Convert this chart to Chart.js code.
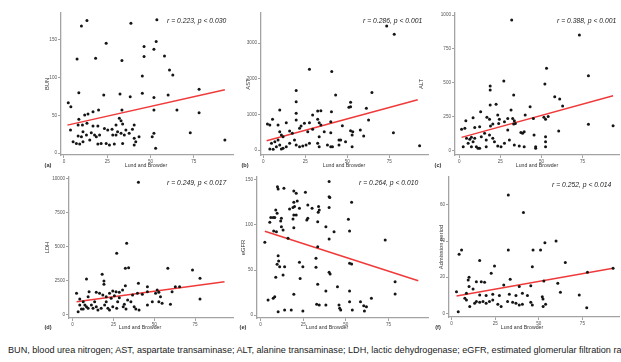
<!DOCTYPE html>
<html>
<head>
<meta charset="utf-8">
<script src="https://cdn.jsdelivr.net/npm/chart.js@4.4.0/dist/chart.umd.min.js"></script>
<style>
  body { margin: 0; background: #fff; width: 621px; height: 362px; overflow: hidden; position: relative;
         font-family: "Liberation Sans", Arial, sans-serif; }
  canvas { position: absolute; }
  .lbl { position: absolute; white-space: nowrap; color: #333; transform: translate(-50%, -50%); }
  .xt { font-size: 5.2px; }
  .tag { font-size: 5.6px; font-weight: bold; }
  .stat { position: absolute; white-space: nowrap; color: #222; font-size: 6.8px; font-style: italic; transform: translateY(-50%); }
  #caption { position: absolute; left: 8px; top: 350px; transform: translateY(-50%); font-size: 9.1px; color: #1a1a1a; white-space: nowrap; }
</style>
</head>
<body>
<div id="caption">BUN, blood urea nitrogen; AST, aspartate transaminase; ALT, alanine transaminase; LDH, lactic dehydrogenase; eGFR, estimated glomerular filtration rate.</div>
<script>
// tick labels
const lundTicks = [0, 25, 50, 75];
const bunTicks = [0, 50, 100, 150];
const astTicks = [0, 1000, 2000, 3000];
const altTicks = [0, 250, 500, 750, 1000];
const ldhTicks = [0, 2500, 5000, 7500, 10000];
const egfrTicks = [0, 50, 100, 150];
const admTicks = [0, 20, 40, 60];

// [Lund and Browder, value]
const bunPoints = [
  [13.3,175.7],[10.1,168.6],[38.7,172.1],[53.7,176.6],[24.4,145.6],[46.3,141.2],[53.3,147.8],[52.0,137.6],
  [7.6,124.8],[18.3,125.7],[33.5,122.6],[46.3,127.9],[58.1,128.8],[61.0,110.2],[62.9,103.5],[45.3,102.2],
  [78.1,84.5],[8.6,80.1],[23.0,77.0],[32.4,78.3],[38.3,74.8],[45.3,79.2],[52.0,73.5],[60.2,77.0],
  [2.5,66.8],[4.0,61.5],[65.3,57.1],[52.0,57.1],[33.5,57.1],[12.0,50.4],[13.9,51.8],[16.8,54.9],
  [20.0,57.1],[8.6,44.7],[32.0,46.0],[33.0,42.9],[78.1,53.5],[73.0,27.0],[93.0,17.3],[3.8,30.5],
  [8.2,37.2],[10.7,37.2],[13.3,39.4],[16.8,35.8],[19.6,35.8],[23.4,32.7],[25.3,30.5],[27.8,31.4],
  [30.1,37.2],[31.0,28.3],[33.9,38.5],[35.8,30.5],[40.6,37.2],[39.6,31.4],[5.3,15.0],[7.2,12.8],
  [9.1,11.9],[11.0,15.0],[8.2,22.6],[10.1,21.7],[13.0,23.9],[14.9,17.3],[17.7,23.9],[18.7,21.7],
  [20.6,23.9],[19.6,11.9],[21.5,12.8],[24.4,12.8],[26.3,10.6],[28.2,23.9],[30.1,23.9],[33.0,26.1],
  [33.9,12.8],[34.9,23.9],[37.7,26.1],[40.6,19.5],[40.6,10.6],[41.5,15.0],[43.4,21.7],[51.0,21.7],
  [52.0,26.1],[53.0,6.2],[29.1,11.9],[11.0,28.3],[15.8,27.0]
];
const astPoints = [
  [73.5,3486],[78.0,3251],[27.5,2268],[40.8,2202],[19.6,1668],[43.1,1546],[64.7,1612],[19.6,1359],
  [52.0,1340],[51.0,1200],[52.0,1218],[61.4,1171],[9.8,1124],[32.4,1096],[34.3,1106],[29.4,984],
  [40.6,1078],[19.6,1031],[5.5,862],[2.5,731],[3.9,703],[8.8,703],[13.7,768],[19.6,843],
  [24.5,750],[27.5,768],[32.4,862],[33.3,768],[34.3,703],[40.2,796],[47.1,684],[52.0,543],
  [53.3,515],[57.8,562],[62.7,843],[77.5,487],[93.1,122],[9.8,515],[10.8,422],[11.8,375],
  [15.7,534],[17.3,468],[21.6,609],[22.5,675],[26.5,515],[29.4,581],[33.3,375],[36.3,515],
  [40.2,487],[45.1,281],[46.1,281],[49.0,234],[52.9,422],[59.8,394],[4.9,187],[6.9,234],
  [7.8,94],[9.8,141],[11.8,47],[13.7,94],[8.8,281],[15.7,187],[18.6,281],[19.6,141],
  [21.6,94],[23.5,112],[25.5,141],[27.5,187],[32.4,187],[33.3,94],[38.2,141],[40.2,94],
  [41.2,94],[45.1,141],[52.9,94],[3.9,28],[5.9,19],[10.8,28]
];
const altPoints = [
  [31.9,963],[73.1,853],[53.1,607],[78.6,553],[27.1,514],[52.1,491],[18.8,477],[18.8,447],
  [33.1,410],[58.1,398],[61.1,381],[18.8,337],[22.4,342],[43.1,324],[62.9,329],[13.0,287],
  [31.5,300],[40.1,263],[8.4,243],[16.8,246],[18.4,231],[23.4,263],[24.4,231],[29.5,238],
  [32.5,238],[33.5,221],[34.1,201],[51.5,246],[52.5,231],[54.1,251],[45.1,238],[4.0,221],
  [1.4,157],[3.4,165],[9.4,170],[12.4,177],[19.0,182],[20.4,197],[24.0,201],[27.5,214],
  [33.1,197],[29.5,152],[37.5,133],[38.5,128],[39.5,140],[45.5,115],[52.5,103],[60.5,145],
  [78.6,194],[93.6,184],[2.4,29],[5.4,54],[7.4,29],[8.4,66],[6.4,84],[7.4,98],
  [9.4,91],[10.4,29],[11.4,17],[12.4,17],[13.4,103],[15.4,128],[16.4,79],[18.4,115],
  [20.4,91],[21.4,66],[23.4,34],[25.4,29],[27.5,54],[30.5,79],[33.5,42],[36.5,34],
  [39.5,29],[46.5,17],[46.5,29],[52.5,29],[52.5,66],[16.4,29],[4.4,91]
];
const ldhPoints = [
  [40.3,9702],[33.1,5219],[27.0,4484],[32.3,3381],[34.3,3430],[58.3,3381],[73.4,3259],[8.5,2597],
  [18.1,2940],[19.2,2450],[19.2,2205],[78.0,2646],[40.3,2279],[32.3,2107],[30.6,1789],[45.8,2034],
  [62.9,2034],[65.5,2034],[51.8,1789],[60.9,1666],[2.4,1544],[4.4,1127],[10.1,1666],[9.5,1299],
  [14.5,1617],[16.5,1544],[18.5,1421],[22.6,1544],[24.6,1715],[26.6,1666],[28.6,1617],[20.6,1299],
  [23.6,1176],[25.6,1372],[28.6,1225],[36.7,1421],[39.7,1544],[42.7,1470],[45.8,1666],[50.8,1544],
  [52.8,1617],[53.8,1299],[78.0,1127],[6.5,931],[7.5,686],[8.5,564],[9.5,441],[6.5,392],
  [11.5,686],[12.5,441],[14.5,564],[15.5,319],[13.5,931],[17.5,441],[19.6,686],[21.6,441],
  [22.6,319],[24.6,564],[27.0,441],[27.6,931],[31.0,564],[31.7,735],[32.7,392],[33.7,1054],
  [35.7,931],[37.7,564],[38.7,392],[40.7,319],[45.8,686],[48.8,931],[52.8,931],[54.8,809],
  [59.9,735],[3.4,196],[5.4,392],[4.4,686],[20.6,931]
];
const egfrPoints = [
  [9.9,142.6],[10.3,140],[13.7,140.7],[19.5,137.8],[20.9,135.2],[26.3,136.3],[40.2,148.2],[40.2,131.5],
  [40.6,130.4],[53.4,125.2],[19.5,125.2],[21.5,126.7],[19.9,120.4],[17.0,117.8],[19.0,119.3],[22.8,118.5],
  [27.7,122.2],[30.2,118.5],[34.0,120.4],[34.4,116.7],[33.8,114.1],[40.2,119.3],[8.9,116.7],[9.7,113],
  [8.3,108.2],[6.0,108.2],[7.4,108.2],[5.4,103],[12.2,107.4],[11.8,104.5],[19.5,111.1],[20.9,111.1],
  [19.0,106.7],[27.7,107.4],[27.1,105.6],[33.5,103.7],[12.2,98.1],[13.2,94.4],[7.7,93.3],[9.3,92.6],
  [19.5,97],[16.1,85.2],[38.3,98.1],[43.1,92.6],[51.5,106.3],[52.2,93.3],[40.2,84.5],[73.1,83.3],
  [2.5,80.7],[33.5,75.9],[10.3,65.9],[10.6,60],[9.7,56.3],[14.1,53.7],[11.2,53.7],[22.8,58.5],
  [24.8,53.7],[23.2,40.7],[32.5,63],[32.5,53],[52.2,57.4],[53.4,56.7],[8.9,41.9],[13.2,44.4],
  [40.2,47.4],[40.8,45.6],[33.5,34.1],[45.1,31.5],[38.3,26.7],[19.5,23],[52.2,26.7],[78.9,37],
  [78.9,23.3],[4.4,16.7],[7.4,18.5],[8.3,20.4],[32.9,11.9],[34.4,11.1],[38.3,11.1],[46.0,11.1],
  [46.4,7.4],[47.0,5.6],[52.2,14.8],[53.8,5.6],[58.6,14.8],[60.5,10.4],[60.9,4.4],[62.1,9.3],
  [65.0,18.5],[10.3,3.7],[14.1,5.6],[18.0,5.6],[24.8,4.4]
];
const admPoints = [
  [32.5,65.5],[41.2,55.9],[53.5,39.1],[59.9,40.1],[32.5,35.1],[46.7,35.1],[51.0,35.1],[5.7,35.1],
  [4.3,32.7],[16.1,29.2],[24.6,26.2],[46.3,25.8],[65.2,28.1],[22.7,22.2],[10.0,19.9],[9.5,18.5],
  [14.2,17.5],[17.0,17.5],[18.9,17.2],[33.6,18.8],[29.9,15.7],[52.9,17.9],[60.9,16.6],[92.6,24.9],
  [77.9,22.7],[10.0,14.8],[12.3,13.5],[2.8,12.0],[8.5,11.1],[62.4,11.6],[73.2,10.2],[16.1,10.2],
  [19.8,9.8],[23.6,10.5],[27.4,9.8],[33.1,10.5],[36.9,9.8],[40.6,11.1],[43.5,9.8],[45.4,15.3],
  [38.8,14.8],[7.6,8.3],[8.5,7.4],[10.4,3.7],[13.2,5.5],[14.2,6.5],[16.1,6.1],[18.0,6.5],
  [19.8,5.5],[21.7,6.5],[23.6,7.4],[26.5,5.0],[28.4,3.7],[32.1,6.5],[35.0,6.1],[36.9,5.5],
  [38.8,4.6],[40.6,5.0],[45.4,6.1],[46.3,4.6],[52.0,9.2],[52.4,7.9],[52.5,3.7],[53.9,5.0],
  [3.8,0.9],[77.5,3.1]
];

// fitted regression lines, start and end
const bunFit = [[2, 37], [93, 84]];
const astFit = [[2, 260], [92, 1410]];
const altFit = [[1.4, 98], [93.6, 405]];
const ldhFit = [[2.4, 930], [93, 2400]];
const egfrFit = [[2.5, 93], [92.5, 38]];
const admFit = [[2.8, 9.6], [92.6, 24.9]];

const panels = [
  { tag: '(a)', yTitle: 'BUN', points: bunPoints, fit: bunFit, yTicks: bunTicks, stat: 'r = 0.223, p < 0.030',
    xr: [-1.7, 97.7], yr: [-2.6, 185.7], area: [61, 235, 13, 155], yw: 17, xt: [146, 165], tagAt: [48, 165], statAt: [167, 20] },
  { tag: '(b)', yTitle: 'AST', points: astPoints, fit: astFit, yTicks: astTicks, stat: 'r = 0.286, p < 0.001',
    xr: [-1.35, 98.1], yr: [-140, 3848], area: [261, 430, 13, 155], yw: 16, xt: [344, 165], tagAt: [245, 165], statAt: [363, 20] },
  { tag: '(c)', yTitle: 'ALT', points: altPoints, fit: altFit, yTicks: altTicks, stat: 'r = 0.388, p < 0.001',
    xr: [-2.6, 97.2], yr: [-32, 1015], area: [455, 621, 13, 155], yw: 37, xt: [537, 165], tagAt: [438, 165], statAt: [557, 20] },
  { tag: '(d)', yTitle: 'LDH', points: ldhPoints, fit: ldhFit, yTicks: ldhTicks, stat: 'r = 0.249, p < 0.017',
    xr: [-2.2, 98.2], yr: [-272, 10096], area: [69, 235, 177, 318], yw: 25, xt: [140, 327], tagAt: [48, 327], statAt: [167, 182] },
  { tag: '(e)', yTitle: 'eGFR', points: egfrPoints, fit: egfrFit, yTicks: egfrTicks, stat: 'r = 0.264, p < 0.010',
    xr: [-2.1, 98.2], yr: [-3.3, 153.3], area: [257, 430, 177, 318], yw: 17, xt: [327, 327], tagAt: [243, 327], statAt: [359, 182] },
  { tag: '(f)', yTitle: 'Admission period', points: admPoints, fit: admFit, yTicks: admTicks, stat: 'r = 0.252, p < 0.014',
    xr: [-1.5, 96], yr: [-2.05, 75.5], area: [449, 621, 177, 317], yw: 11, xt: [522, 327], tagAt: [438, 327], statAt: [552, 184] }
];

Chart.defaults.font.family = '"Liberation Sans", Arial, sans-serif';

const axisColor = '#a3a3a3';
const tickColor = '#555';

function addLabel(cls, text, x, y) {
  const d = document.createElement('div');
  d.className = cls;
  d.textContent = text;
  d.style.left = x + 'px';
  d.style.top = y + 'px';
  document.body.appendChild(d);
}

function makePanel(p) {
  const [l, r, t, b] = p.area;
  const padTop = 5, padRight = 2, xh = 11;
  const canvas = document.createElement('canvas');
  canvas.width = r - l + p.yw + padRight;
  canvas.height = b - t + padTop + xh;
  canvas.style.left = (l - p.yw) + 'px';
  canvas.style.top = (t - padTop) + 'px';
  document.body.appendChild(canvas);

  const gridOpts = { display: true, drawOnChartArea: false, drawTicks: true, tickLength: 3, color: axisColor, lineWidth: 1 };
  const borderOpts = { display: true, color: axisColor, width: 1.3 };
  const tickFont = { size: 4.6 };

  new Chart(canvas, {
    type: 'scatter',
    data: {
      datasets: [
        {
          data: p.points.map(([x, y]) => ({ x, y })),
          pointRadius: 1.5,
          backgroundColor: '#151515',
          borderWidth: 0,
          clip: false
        },
        {
          data: p.fit.map(([x, y]) => ({ x, y })),
          showLine: true,
          borderColor: '#f03a3a',
          borderWidth: 1.5,
          pointRadius: 0
        }
      ]
    },
    options: {
      responsive: false,
      animation: false,
      events: [],
      layout: { padding: { top: padTop, right: padRight, left: 0, bottom: 0 } },
      plugins: { legend: { display: false }, tooltip: { enabled: false } },
      scales: {
        x: {
          type: 'linear',
          min: p.xr[0],
          max: p.xr[1],
          grid: gridOpts,
          border: borderOpts,
          ticks: { color: tickColor, font: tickFont, padding: 1, maxRotation: 0, autoSkip: false, callback: v => String(v) },
          afterBuildTicks: s => { s.ticks = lundTicks.map(v => ({ value: v })); },
          afterFit: s => { s.height = xh; s.paddingLeft = 0; s.paddingRight = 0; }
        },
        y: {
          type: 'linear',
          min: p.yr[0],
          max: p.yr[1],
          grid: gridOpts,
          border: borderOpts,
          title: { display: true, text: p.yTitle, color: '#333', font: { size: 5.8 }, padding: 0 },
          ticks: { color: tickColor, font: tickFont, padding: 1, autoSkip: false, callback: v => String(v) },
          afterBuildTicks: s => { s.ticks = p.yTicks.map(v => ({ value: v })); },
          afterFit: s => { s.width = p.yw; s.paddingTop = 0; s.paddingBottom = 0; }
        }
      }
    }
  });

  addLabel('lbl xt', 'Lund and Browder', p.xt[0], p.xt[1]);
  addLabel('lbl tag', p.tag, p.tagAt[0], p.tagAt[1]);
  const s = document.createElement('div');
  s.className = 'stat';
  s.textContent = p.stat;
  s.style.left = p.statAt[0] + 'px';
  s.style.top = p.statAt[1] + 'px';
  document.body.appendChild(s);
}

panels.forEach(makePanel);
</script>
</body>
</html>
